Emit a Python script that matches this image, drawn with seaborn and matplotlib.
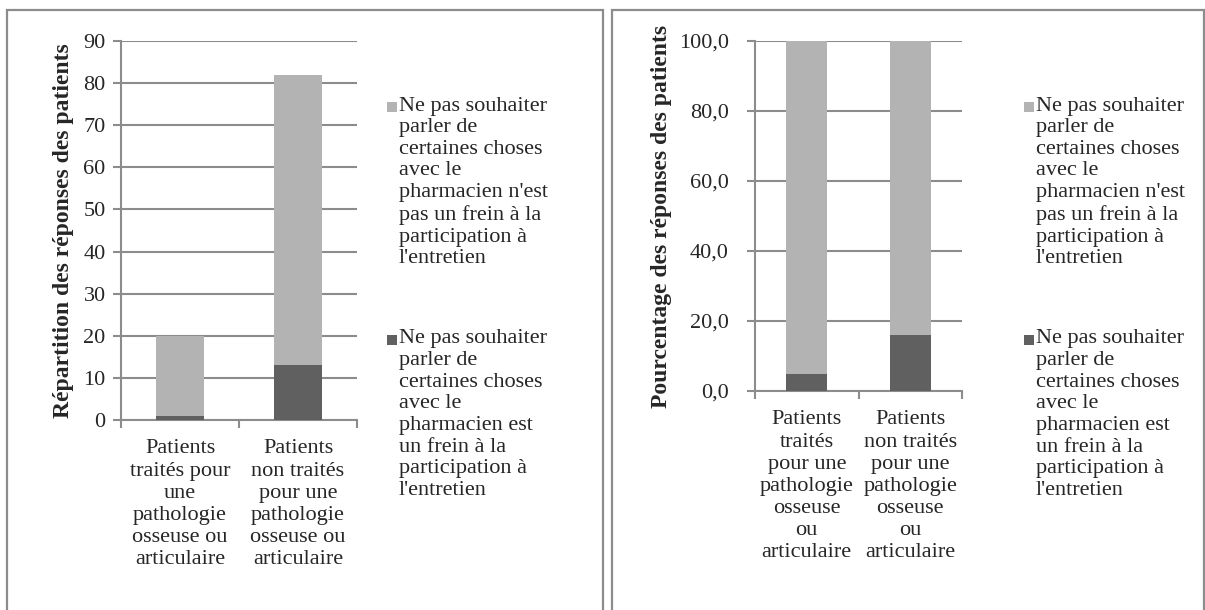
import matplotlib
matplotlib.use("Agg")
import matplotlib.pyplot as plt
from matplotlib.patches import Rectangle
from matplotlib.ticker import FuncFormatter, FixedLocator, NullFormatter
import pandas as pd
import seaborn as sns

# ---- data -------------------------------------------------------------
groups_left = ["Patients\ntraités pour\nune\npathologie\nosseuse ou\narticulaire",
               "Patients\nnon traités\npour une\npathologie\nosseuse ou\narticulaire"]
groups_right = ["Patients\ntraités\npour une\npathologie\nosseuse\nou\narticulaire",
                "Patients\nnon traités\npour une\npathologie\nosseuse\nou\narticulaire"]

counts_frein = [1, 13]        # "est un frein"
counts_pas_frein = [19, 69]   # "n'est pas un frein"
pct_frein = [5.0, 15.9]
pct_pas_frein = [95.0, 84.1]

label_pas_frein = ("Ne pas souhaiter\nparler de\ncertaines choses\navec le\n"
                   "pharmacien n'est\npas un frein à la\nparticipation à\nl'entretien")
label_frein = ("Ne pas souhaiter\nparler de\ncertaines choses\navec le\n"
               "pharmacien est\nun frein à la\nparticipation à\nl'entretien")

ylabel_left = "Répartition des réponses des patients"
ylabel_right = "Pourcentage des réponses des patients"

# ---- style ------------------------------------------------------------
sns.set_theme(style="white")
plt.rcParams["font.family"] = ["Liberation Serif", "DejaVu Serif"]

LIGHT = "#b3b3b3"
DARK = "#606060"
GRID = "#8c8c8c"
FS_TICK = 16
FS_LEG = 16
FS_YLAB = 17

W, H = 1205, 610
fig = plt.figure(figsize=(W / 100, H / 100), dpi=100)


def px_axes(x0, y0, x1, y1):
    return fig.add_axes([x0 / W, 1 - y1 / H, (x1 - x0) / W, (y1 - y0) / H])


def stacked(ax, cats, bottom_vals, top_vals, ymax, step, fmt, ylabel, label_x,
            ypad):
    totals = [b + t for b, t in zip(bottom_vals, top_vals)]
    df = pd.DataFrame({"cat": cats, "total": totals, "bottom": bottom_vals})
    sns.barplot(data=df, x="cat", y="total", color=LIGHT, saturation=1,
                width=0.4, ax=ax, zorder=3)
    sns.barplot(data=df, x="cat", y="bottom", color=DARK, saturation=1,
                width=0.4, ax=ax, zorder=4)
    for p in ax.patches:
        p.set_edgecolor("none")
    ax.set_xlim(-0.5, len(cats) - 0.5)
    ax.set_ylim(0, ymax)
    yt = [i * step for i in range(int(round(ymax / step)) + 1)]
    ax.set_yticks(yt)
    ax.yaxis.set_major_formatter(FuncFormatter(fmt))
    ax.yaxis.grid(True, color=GRID, linewidth=1.5, zorder=0)
    ax.set_axisbelow(True)

    # category boundaries as major ticks, labels on minor ticks
    ax.xaxis.set_major_locator(FixedLocator([-0.5 + i for i in range(len(cats) + 1)]))
    ax.xaxis.set_major_formatter(NullFormatter())
    ax.xaxis.set_minor_locator(FixedLocator(list(range(len(cats)))))
    ax.set_xticklabels(cats, minor=True, fontsize=FS_TICK, linespacing=1.22,
                       multialignment="center")
    ax.tick_params(axis="x", which="major", direction="out", length=6,
                   width=1.5, color=GRID, bottom=True)
    ax.tick_params(axis="x", which="minor", length=0, pad=14)
    ax.tick_params(axis="y", direction="out", length=6, width=1.5, color=GRID,
                   left=True, pad=ypad, labelsize=FS_TICK)
    for s in ("top", "right"):
        ax.spines[s].set_visible(False)
    for s in ("left", "bottom"):
        ax.spines[s].set_color(GRID)
        ax.spines[s].set_linewidth(1.5)
    ax.set_xlabel("")
    ax.set_ylabel(ylabel, fontsize=FS_YLAB, fontweight="bold")
    ax.yaxis.set_label_coords(label_x, 0.5)


ax1 = px_axes(121, 41, 357, 420)
stacked(ax1, groups_left, counts_frein, counts_pas_frein, 90, 10,
        lambda v, _: f"{v:.0f}", ylabel_left, -0.20, 5)

ax2 = px_axes(755, 41, 962, 391)
stacked(ax2, groups_right, pct_frein, pct_pas_frein, 100, 20,
        lambda v, _: f"{v:.1f}".replace(".", ","), ylabel_right, -0.40, 13)


# ---- legends ----------------------------------------------------------
def legend_entry(x_sq, x_txt, y_line, color, text):
    s = 10
    fig.patches.append(Rectangle((x_sq / W, 1 - (y_line + s / 2) / H), s / W, s / H,
                                 transform=fig.transFigure, facecolor=color,
                                 edgecolor="none"))
    fig.text(x_txt / W, 1 - (y_line - 10.5) / H, text, fontsize=FS_LEG, ha="left",
             va="top", linespacing=1.19)


for x_sq, x_txt in [(387, 399), (1024, 1036)]:
    legend_entry(x_sq, x_txt, 107, LIGHT, label_pas_frein)
    legend_entry(x_sq, x_txt, 340, DARK, label_frein)

# ---- panel frames -----------------------------------------------------
for x0, x1 in [(7, 603), (612, 1204)]:
    fig.patches.append(Rectangle((x0 / W, -0.02), (x1 - x0) / W, 1 - 10 / H + 0.02,
                                 transform=fig.transFigure, fill=False,
                                 edgecolor="#8c8c8c", linewidth=1.6))

fig.savefig("out.png", dpi=100)
